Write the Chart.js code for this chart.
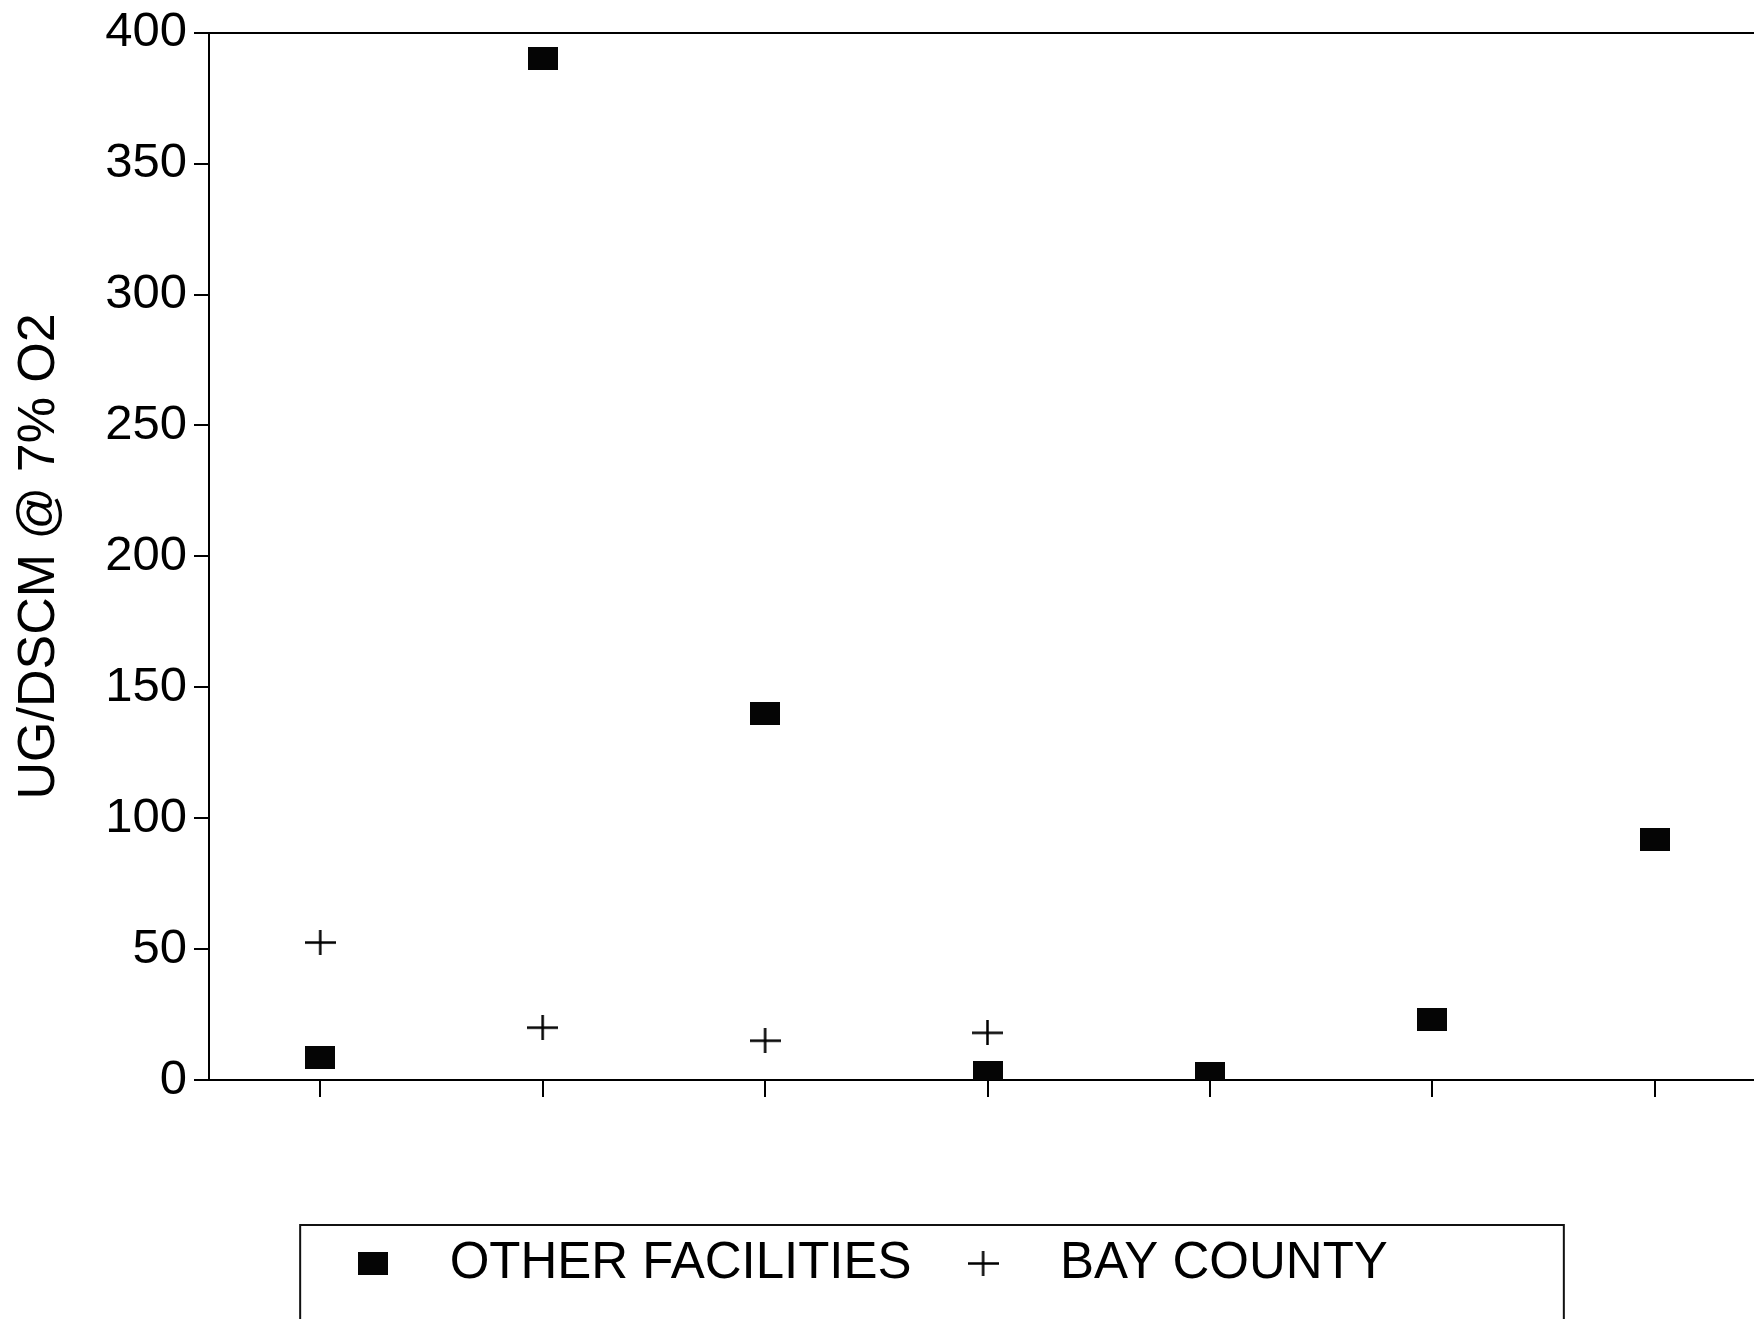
<!DOCTYPE html>
<html>
<head>
<meta charset="utf-8">
<script src="https://cdn.jsdelivr.net/npm/chart.js@4.4.1/dist/chart.umd.min.js"></script>
<style>
  html, body { margin: 0; padding: 0; background: #fff; overflow: hidden; }
  #wrap { width: 1782px; height: 1319px; }
</style>
</head>
<body>
<div id="wrap"><canvas id="chart" width="1782" height="1319"></canvas></div>
<script>
// Test runs along the x axis (unlabelled), concentrations in ug/dscm @ 7% O2
const categories = ['1', '2', '3', '4', '5', '6', '7'];
const otherFacilities = [8.5, 390, 140, 3, 2.5, 23, 92];
const bayCounty = [52.5, 20, 15, 18, null, null, null];
const seriesNames = ['OTHER FACILITIES', 'BAY COUNTY'];
const yTickMin = 0;
const yTickMax = 400;
const yTickStep = 50;
const yTitle = 'UG/DSCM @ 7% O2';

const FONT = "'Liberation Sans', Arial, Helvetica, sans-serif";

// Marker sprites: a filled black block and a thin plus sign
function blockMarker(w, h) {
  const c = document.createElement('canvas');
  c.width = w; c.height = h;
  const g = c.getContext('2d');
  g.fillStyle = '#050505';
  g.fillRect(0, 0, w, h);
  return c;
}
function plusMarker(w, h, lw) {
  const c = document.createElement('canvas');
  c.width = w; c.height = h;
  const g = c.getContext('2d');
  g.strokeStyle = '#000';
  g.lineWidth = lw;
  g.beginPath();
  g.moveTo(0, h / 2); g.lineTo(w, h / 2);
  g.moveTo(w / 2, 0); g.lineTo(w / 2, h);
  g.stroke();
  return c;
}
const blockImg = blockMarker(30, 23);
const plusImg = plusMarker(31, 25, 2.5);

// Nudge the legend row left of the canvas centre
const LEGEND_SHIFT = 33;
const legendShift = {
  id: 'legendShift',
  afterUpdate(chart) {
    const lg = chart.legend;
    if (!lg) return;
    lg.left = -LEGEND_SHIFT;
    lg.right = chart.width - 7 - LEGEND_SHIFT;
    lg.adjustHitBoxes();
  }
};

// Open-bottomed frame around the legend row
const legendFrame = {
  id: 'legendFrame',
  afterDraw(chart) {
    const lg = chart.legend;
    if (!lg || !lg.legendHitBoxes || !lg.legendHitBoxes.length) return;
    const boxes = lg.legendHitBoxes;
    const first = boxes[0];
    const last = boxes[boxes.length - 1];
    const left = first.left - 21;
    const right = last.left + last.width + 176;
    const top = lg.top + 7;
    const ctx = chart.ctx;
    ctx.save();
    ctx.strokeStyle = '#111';
    ctx.lineWidth = 2;
    ctx.beginPath();
    ctx.moveTo(left, chart.height + 5);
    ctx.lineTo(left, top);
    ctx.lineTo(right, top);
    ctx.lineTo(right, chart.height + 5);
    ctx.stroke();
    ctx.restore();
  }
};

new Chart(document.getElementById('chart'), {
  type: 'line',
  data: {
    labels: categories,
    datasets: [
      {
        label: seriesNames[0],
        data: otherFacilities,
        showLine: false,
        pointStyle: blockImg,
        pointRadius: 15,
        borderColor: '#000',
        backgroundColor: '#000'
      },
      {
        label: seriesNames[1],
        data: bayCounty,
        showLine: false,
        pointStyle: plusImg,
        pointRadius: 15,
        borderColor: '#000',
        backgroundColor: '#000'
      }
    ]
  },
  options: {
    responsive: false,
    animation: false,
    devicePixelRatio: 1,
    layout: { padding: { top: 20, right: 7, bottom: 20, left: 0 } },
    plugins: {
      tooltip: { enabled: false },
      legend: {
        display: true,
        position: 'bottom',
        align: 'center',
        labels: {
          usePointStyle: true,
          pointStyleWidth: 103,
          padding: 20,
          color: '#000',
          font: { family: FONT, size: 51 }
        }
      }
    },
    scales: {
      x: {
        type: 'category',
        offset: true,
        position: 'bottom',
        border: { display: true, color: '#000', width: 2 },
        grid: {
          display: true,
          offset: false,
          drawOnChartArea: false,
          drawTicks: true,
          tickLength: 17,
          color: '#000',
          lineWidth: 2
        },
        ticks: { display: false },
        afterFit(scale) { scale.height = 138; }
      },
      xTop: {
        type: 'category',
        offset: true,
        position: 'top',
        border: { display: true, color: '#000', width: 2 },
        grid: { display: false },
        ticks: { display: false },
        afterFit(scale) { scale.height = 0; }
      },
      y: {
        type: 'linear',
        min: yTickMin,
        max: yTickMax,
        border: { display: true, color: '#000', width: 2 },
        grid: {
          display: true,
          drawOnChartArea: false,
          drawTicks: true,
          tickLength: 15,
          color: '#000',
          lineWidth: 2
        },
        ticks: {
          stepSize: yTickStep,
          color: '#000',
          padding: 7,
          font: { family: FONT, size: 49, lineHeight: 1.05 }
        },
        title: {
          display: true,
          text: yTitle,
          color: '#000',
          padding: { top: 8, bottom: 0 },
          font: { family: FONT, size: 52 }
        },
        afterFit(scale) { scale.width = 209; }
      }
    }
  },
  plugins: [legendShift, legendFrame]
});
</script>
</body>
</html>
